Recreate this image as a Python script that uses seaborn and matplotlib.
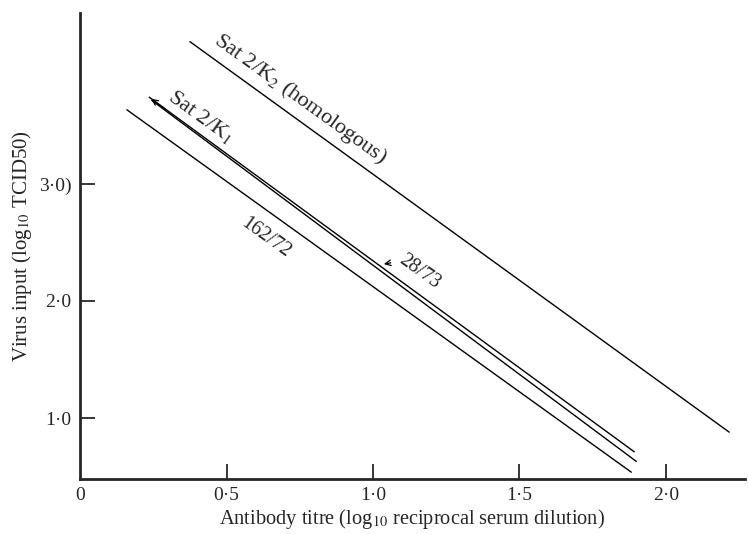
import numpy as np
import pandas as pd
import matplotlib
matplotlib.use('Agg')
import matplotlib.pyplot as plt
import seaborn as sns

# line end points (x = antibody titre, y = virus input)
series = ['Sat 2/K2', '162/72', 'Sat 2/K1', '28/73']
x_start = [0.375, 0.160, 0.236, 0.245]
x_end = [2.216, 1.882, 1.892, 1.899]
y_start = [4.214, 3.632, 3.740, 3.712]
y_end = [0.880, 0.538, 0.712, 0.630]

xticks = [0.0, 0.5, 1.0, 1.5, 2.0]
xtick_labels = ['0', '0·5', '1·0', '1·5', '2·0']
yticks = [1.0, 2.0, 3.0]
ytick_labels = ['1·0', '2·0', '3·0)']

rows = []
for s, x0, x1, y0, y1 in zip(series, x_start, x_end, y_start, y_end):
    rows.append({'series': s, 'x': x0, 'y': y0})
    rows.append({'series': s, 'x': x1, 'y': y1})
df = pd.DataFrame(rows)

sns.set_style('ticks')
plt.rcParams['font.family'] = ['Liberation Serif', 'DejaVu Serif']
plt.rcParams['mathtext.fontset'] = 'stix'

fig = plt.figure(figsize=(7.48, 5.34), dpi=100)
ax = fig.add_axes([0.107, 0.103, 0.889, 0.873])

sns.lineplot(data=df, x='x', y='y', units='series', estimator=None,
             color='black', lw=1.0, ax=ax, sort=False)

ax.set_xlim(0, 2.27)
ax.set_ylim(0.48, 4.46)
ax.set_xticks(xticks)
ax.set_xticklabels(xtick_labels, fontsize=14)
ax.set_yticks(yticks)
ax.set_yticklabels(ytick_labels, fontsize=14)
ax.tick_params(direction='in', length=11, width=1.3, pad=6)
ax.xaxis.get_major_ticks()[0].tick1line.set_visible(False)

for sp in ['top', 'right']:
    ax.spines[sp].set_visible(False)
for sp in ['left', 'bottom']:
    ax.spines[sp].set_linewidth(2)

ax.set_xlabel('Antibody titre (log$_{10}$ reciprocal serum dilution)', fontsize=14.7, labelpad=2)
ax.set_ylabel('Virus input (log$_{10}$ TCID50)', fontsize=15, labelpad=4)

rot = -35.8
ax.text(0.751, 3.727, 'Sat 2/K$_2$ (homologous)', rotation=rot, ha='center', va='center',
        rotation_mode='anchor', fontsize=16)
ax.text(0.413, 3.573, 'Sat 2/K$_1$', rotation=rot, ha='center', va='center',
        rotation_mode='anchor', fontsize=16)
ax.text(1.160, 2.248, '28/73', rotation=rot, ha='center', va='center',
        rotation_mode='anchor', fontsize=14.5)
ax.text(0.635, 2.538, '162/72', rotation=rot, ha='center', va='center',
        rotation_mode='anchor', fontsize=14.5)

# small arrow heads marking the paired lines
ax.annotate('', xy=(0.236, 3.740), xytext=(0.30, 3.62),
            arrowprops=dict(arrowstyle='->', lw=0.9, color='black'))
ax.annotate('', xy=(1.028, 2.31), xytext=(1.07, 2.33),
            arrowprops=dict(arrowstyle='->', lw=0.9, color='black'))

fig.savefig('out.png', dpi=100)
